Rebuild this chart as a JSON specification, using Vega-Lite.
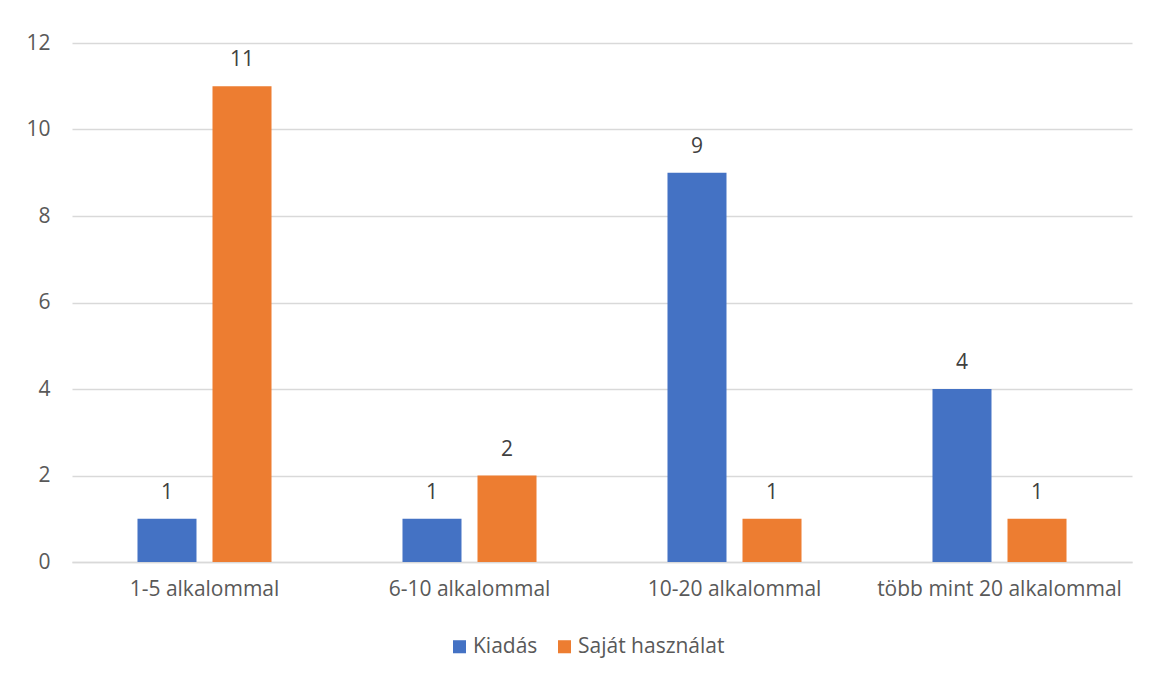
{
  "$schema": "https://vega.github.io/schema/vega-lite/v6.json",
  "autosize": {"type": "none"},
  "padding": {"left": 72, "top": 43, "right": 17, "bottom": 115},
  "width": 1060,
  "height": 519,
  "background": "white",
  "config": {
    "font": "Open Sans",
    "view": {"stroke": null},
    "axis": {"labelFont": "Open Sans", "labelColor": "#595959"},
    "legend": {"labelFont": "Open Sans"}
  },
  "data": {
    "values": [
      {"kategoria": "1-5 alkalommal", "sorozat": "Kiadás", "ertek": 1},
      {"kategoria": "1-5 alkalommal", "sorozat": "Saját használat", "ertek": 11},
      {"kategoria": "6-10 alkalommal", "sorozat": "Kiadás", "ertek": 1},
      {"kategoria": "6-10 alkalommal", "sorozat": "Saját használat", "ertek": 2},
      {"kategoria": "10-20 alkalommal", "sorozat": "Kiadás", "ertek": 9},
      {"kategoria": "10-20 alkalommal", "sorozat": "Saját használat", "ertek": 1},
      {"kategoria": "több mint 20 alkalommal", "sorozat": "Kiadás", "ertek": 4},
      {"kategoria": "több mint 20 alkalommal", "sorozat": "Saját használat", "ertek": 1}
    ]
  },
  "encoding": {
    "x": {
      "field": "kategoria",
      "type": "nominal",
      "sort": null,
      "scale": {"paddingInner": 0, "paddingOuter": 0},
      "axis": {
        "title": null,
        "labelAngle": 0,
        "labelFontSize": 21,
        "labelLimit": 0,
        "labelPadding": 16,
        "ticks": false,
        "domainColor": "#d9d9d9",
        "domainWidth": 1.5,
        "grid": false
      }
    },
    "xOffset": {
      "field": "sorozat",
      "type": "nominal",
      "sort": null,
      "scale": {"paddingInner": 0.2133, "paddingOuter": 0.873}
    },
    "y": {
      "field": "ertek",
      "type": "quantitative",
      "scale": {"domain": [0, 12], "nice": false},
      "axis": {
        "title": null,
        "values": [0, 2, 4, 6, 8, 10, 12],
        "labelFontSize": 21,
        "labelPadding": 22,
        "ticks": false,
        "domain": false,
        "gridColor": "#d9d9d9",
        "gridWidth": 1.5
      }
    }
  },
  "layer": [
    {
      "mark": {"type": "bar"},
      "encoding": {
        "color": {
          "field": "sorozat",
          "type": "nominal",
          "sort": null,
          "scale": {"domain": ["Kiadás", "Saját használat"], "range": ["#4472C4", "#ED7D31"]},
          "legend": {
            "title": null,
            "orient": "none",
            "direction": "horizontal",
            "legendX": 377,
            "legendY": 593,
            "symbolType": "square",
            "symbolSize": 170,
            "symbolStrokeWidth": 0,
            "labelFontSize": 21,
            "labelColor": "#595959",
            "columnPadding": 16,
            "labelOffset": 3
          }
        }
      }
    },
    {
      "mark": {"type": "text", "baseline": "bottom", "dy": -16, "fontSize": 21, "color": "#404040"},
      "encoding": {
        "text": {"field": "ertek", "type": "quantitative"}
      }
    }
  ]
}
